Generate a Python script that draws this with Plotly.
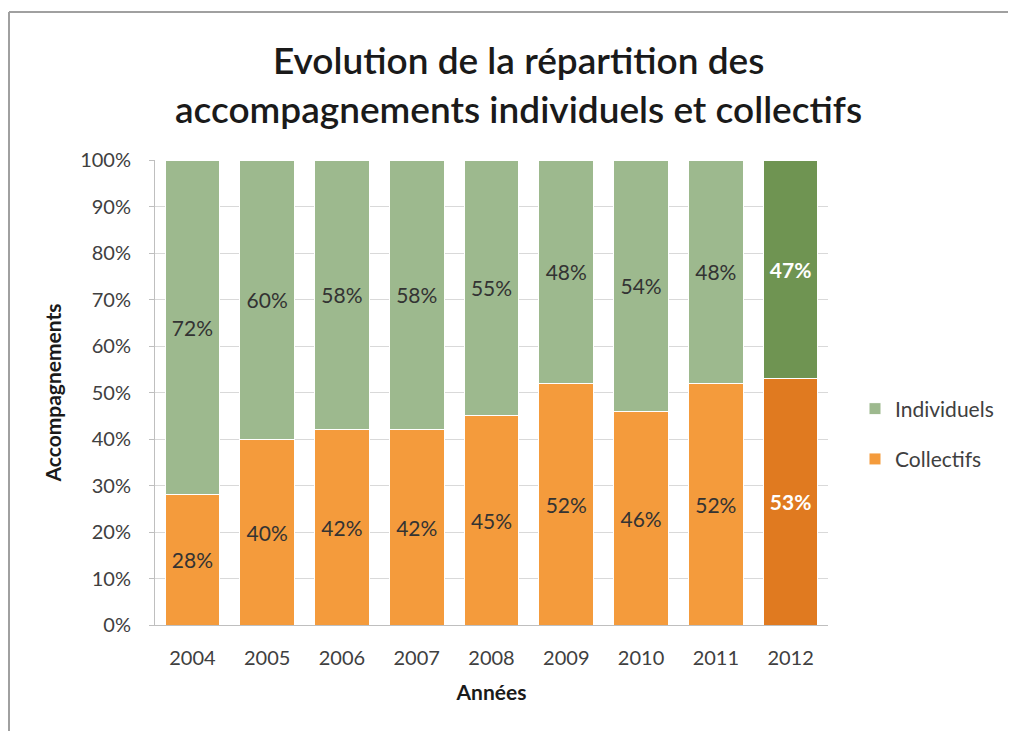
import plotly.graph_objects as go

years = ["2004", "2005", "2006", "2007", "2008", "2009", "2010", "2011", "2012"]
collectifs = [28, 40, 42, 42, 45, 52, 46, 52, 53]
individuels = [72, 60, 58, 58, 55, 48, 54, 48, 47]
tick_vals = [0, 10, 20, 30, 40, 50, 60, 70, 80, 90, 100]
tick_text = [f"{v}%" for v in tick_vals]
title_lines = ["Evolution de la répartition des", "accompagnements individuels et collectifs"]

orange = "#F49B3C"
orange_hl = "#E07A20"
green = "#9DB98E"
green_hl = "#6F9452"
highlight = "2012"

def labels(vals):
    return [f"<b>{v}%</b>" if y == highlight else f"{v}%" for y, v in zip(years, vals)]

def colors(base, hl):
    return [hl if y == highlight else base for y in years]

def tcolors():
    return ["#FFFFFF" if y == highlight else "#333333" for y in years]

font = "Lato, 'Open Sans', sans-serif"

# page body has an 8px margin; plot area should land at screen x 155..828, y 160..625
OFF = 8
PL, PT, PW, PH = 155 - OFF, 160 - OFF, 673, 465

def px_x(px):
    return (px - 155) / PW

def px_y(py):
    return (625 - py) / PH

fig = go.Figure()
fig.add_trace(go.Bar(
    name="Collectifs", x=years, y=collectifs, legendgroup="c", legendrank=2,
    marker=dict(color=colors(orange, orange_hl), line=dict(color="#FFFFFF", width=1)),
    text=labels(collectifs), textposition="inside", insidetextanchor="middle",
    textfont=dict(color=tcolors(), size=21, family=font), textangle=0,
    hoverinfo="skip",
))
fig.add_trace(go.Bar(
    name="Individuels", x=years, y=individuels, legendgroup="i", legendrank=1,
    marker=dict(color=colors(green, green_hl), line=dict(color="#FFFFFF", width=1)),
    text=labels(individuels), textposition="inside", insidetextanchor="middle",
    textfont=dict(color=tcolors(), size=21, family=font), textangle=0,
    hoverinfo="skip",
))

annotations = []
for line, py in zip(title_lines, [60, 108]):
    annotations.append(dict(
        text=line, xref="paper", yref="paper",
        x=px_x(518), y=px_y(py),
        xanchor="center", yanchor="middle", showarrow=False,
        font=dict(size=37, color="#1a1a1a", family=font, weight=600),
    ))

fig.update_layout(
    width=1016, height=731,
    barmode="stack", bargap=0.27,
    paper_bgcolor="white", plot_bgcolor="white",
    margin=dict(l=PL, r=1016 - PL - PW, t=PT, b=731 - PT - PH, autoexpand=False),
    font=dict(family=font, color="#333333", size=15),
    annotations=annotations,
    legend=dict(
        x=px_x(855), y=px_y(434), xanchor="left", yanchor="middle",
        traceorder="grouped", font=dict(size=21, color="#404040"),
        itemwidth=30, tracegroupgap=20,
    ),
    shapes=[
        dict(type="line", xref="paper", yref="paper",
             x0=px_x(9), x1=px_x(1060), y0=px_y(12), y1=px_y(12),
             line=dict(color="#A0A0A0", width=2), layer="below"),
        dict(type="line", xref="paper", yref="paper",
             x0=px_x(9), x1=px_x(9), y0=px_y(12), y1=px_y(760),
             line=dict(color="#A0A0A0", width=2), layer="below"),
    ],
)
fig.update_yaxes(
    range=[0, 100], tickvals=tick_vals, ticktext=tick_text,
    showgrid=True, gridcolor="#D9D9D9", gridwidth=1,
    showline=True, linecolor="#BFBFBF", linewidth=1,
    ticks="outside", ticklen=5, tickcolor="#BFBFBF",
    tickfont=dict(size=20, color="#404040"),
    ticklabelstandoff=14,
    title=dict(text="<b>Accompagnements</b>", font=dict(size=21, color="#1a1a1a"), standoff=12),
    zeroline=False, automargin=False,
)
fig.update_xaxes(
    showline=True, linecolor="#BFBFBF", linewidth=1,
    tickfont=dict(size=20, color="#404040"),
    title=dict(text="<b>Années</b>", font=dict(size=21, color="#1a1a1a"), standoff=17),
    ticklabelstandoff=15, automargin=False,
)

fig.write_html("out.html")
